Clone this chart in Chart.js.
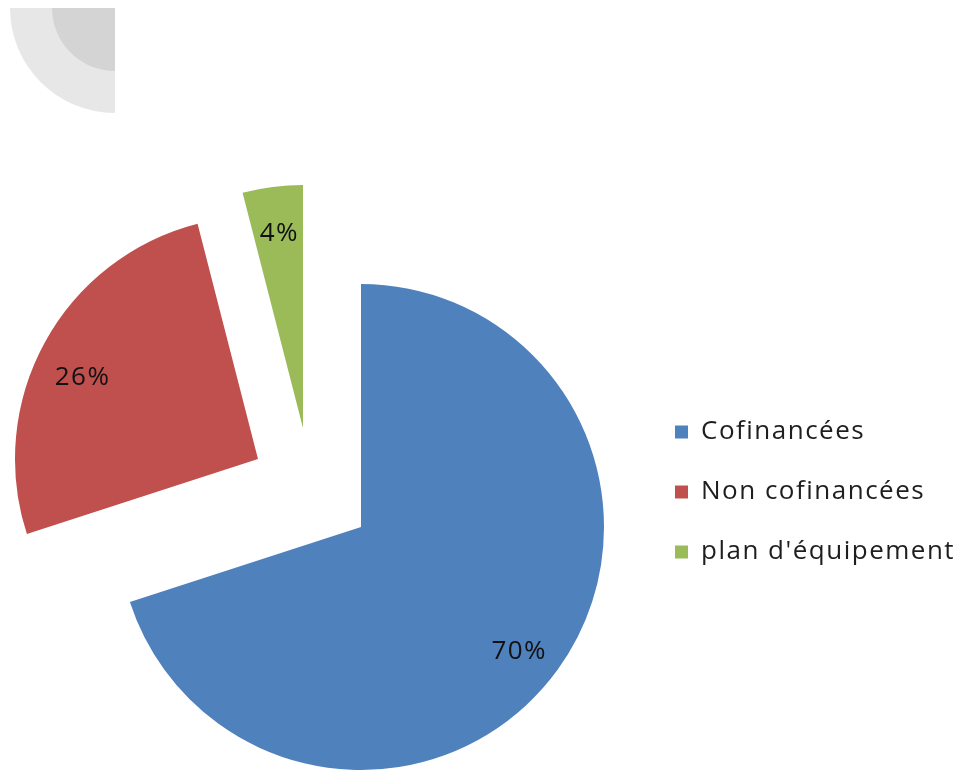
<!DOCTYPE html>
<html><head><meta charset="utf-8">
<script src="https://cdn.jsdelivr.net/npm/chart.js@4.4.1/dist/chart.umd.min.js"></script>
<style>
html,body{margin:0;padding:0;background:#fff;}
#wrap{position:relative;width:963px;height:770px;overflow:hidden;}
.deco1{position:absolute;left:10px;top:8px;width:105px;height:105px;background:#e7e7e7;border-bottom-left-radius:105px;}
.deco2{position:absolute;left:52px;top:8px;width:63px;height:63px;background:#d4d4d4;border-bottom-left-radius:63px;}
canvas{position:absolute;left:0;top:0;}
</style></head><body>
<div id="wrap"><div class="deco1"></div><div class="deco2"></div><canvas id="c" width="963" height="770"></canvas></div>
<script>
const categories = ['Cofinancées', 'Non cofinancées', "plan d'équipement"];
const shares = [70, 26, 4];
const sliceColors = ['#4f81bd', '#c0504d', '#9bbb59'];

const letterSpacingPlugin = {
  id: 'letterSpacingFix',
  beforeUpdate(chart) { chart.ctx.letterSpacing = '1.5px'; },
  beforeDraw(chart) { chart.ctx.letterSpacing = '1.5px'; }
};

const explodePlugin = {
  id: 'explode',
  beforeDatasetDraw(chart, args, opts) {
    const ctx = chart.ctx;
    args.meta.data.forEach((arc, i) => {
      const s = opts.shifts[i] || [0, 0];
      ctx.save();
      ctx.translate(s[0], s[1]);
      arc.draw(ctx, chart.chartArea);
      ctx.restore();
    });
    return false;
  },
  afterDatasetsDraw(chart, args, opts) {
    const ctx = chart.ctx;
    const meta = chart.getDatasetMeta(0);
    const data = chart.data.datasets[0].data;
    const total = data.reduce((a, b) => a + b, 0);
    ctx.save();
    ctx.font = opts.font;
    ctx.fillStyle = opts.color;
    ctx.textAlign = 'center';
    ctx.textBaseline = 'middle';
    meta.data.forEach((arc, i) => {
      const p = arc.getProps(['x', 'y', 'startAngle', 'endAngle', 'outerRadius'], true);
      const mid = (p.startAngle + p.endAngle) / 2;
      const s = opts.shifts[i] || [0, 0];
      const n = opts.labelNudge[i] || [0, 0];
      const r = p.outerRadius * opts.labelRadius;
      ctx.fillText(Math.round(data[i] / total * 100) + '%',
        p.x + s[0] + n[0] + Math.cos(mid) * r, p.y + s[1] + n[1] + Math.sin(mid) * r);
    });
    ctx.restore();
  }
};

new Chart(document.getElementById('c'), {
  type: 'pie',
  data: {
    labels: categories,
    datasets: [{
      data: shares,
      backgroundColor: sliceColors,
      borderWidth: 0,
      clip: false
    }]
  },
  options: {
    responsive: false,
    animation: false,
    events: [],
    radius: 243,
    layout: { padding: { left: 81, right: 0, top: 385, bottom: 101 } },
    plugins: {
      tooltip: { enabled: false },
      legend: {
        position: 'right',
        align: 'start',
        maxWidth: 322,
        labels: {
          boxWidth: 13,
          boxHeight: 13,
          padding: 34,
          color: '#1e1e1e',
          font: { family: "'Open Sans'", size: 26 }
        }
      },
      explode: {
        shifts: [[0, 0], [-103, -68], [-58, -99]],
        labelRadius: 0.81,
        labelNudge: [[-1, 9], [-3, 13], [1, 1]],
        font: "26px 'Open Sans'",
        color: '#111'
      }
    }
  },
  plugins: [letterSpacingPlugin, explodePlugin]
});
</script>
</body></html>
